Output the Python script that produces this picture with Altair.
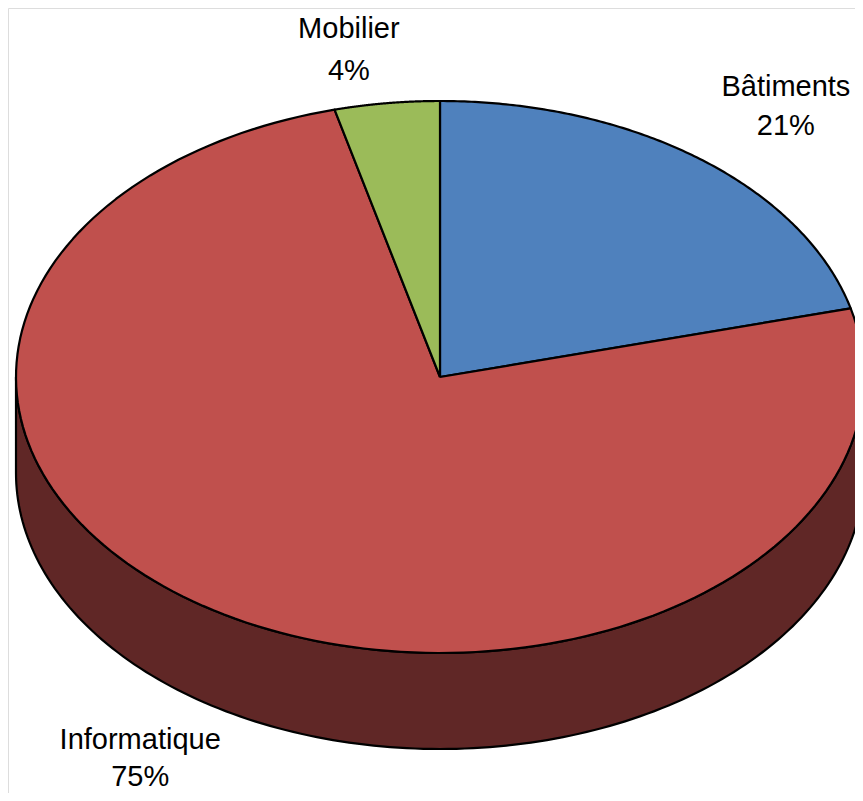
import altair as alt
import pandas as pd

categories = ["Bâtiments", "Informatique", "Mobilier"]
values = [21, 75, 4]
top_colors = ["#4F81BD", "#C0504D", "#9BBB59"]
side_colors = ["#2B3F5E", "#602726", "#4C5C2C"]

N = 160          # points per arc
DEPTH = 96 / 276  # side depth in data units (relative to vertical radius)

df = pd.DataFrame({"cat": categories, "val": values, "idx": list(range(len(categories)))})

xs = alt.Scale(domain=[-1, 1], range=[8, 856], nice=False, zero=False)
ys = alt.Scale(domain=[-1, 1], range=[645, 93], nice=False, zero=False)

base = (
    alt.Chart(df)
    .transform_window(cum="sum(val)", sort=[alt.SortField("idx")], frame=[None, 0])
    .transform_joinaggregate(total="sum(val)")
    .transform_calculate(
        a0="(datum.cum - datum.val) / datum.total",
        a1="datum.cum / datum.total",
    )
)

side_expr = "[" + ",".join(f"'{c}'" for c in side_colors) + "][datum.idx]"

# visible side wall (front half of the ellipse)
side = (
    base.transform_calculate(s0="max(datum.a0, 0.25)", s1="min(datum.a1, 0.75)")
    .transform_filter("datum.s1 > datum.s0")
    .transform_calculate(k=f"sequence(0, {2 * N + 3})", sc=side_expr)
    .transform_flatten(["k"])
    .transform_calculate(
        j=f"datum.k <= {N} ? datum.k : (datum.k <= {2 * N + 1} ? {2 * N + 1} - datum.k : 0)"
    )
    .transform_calculate(t=f"2 * PI * (datum.s0 + (datum.s1 - datum.s0) * datum.j / {N})")
    .transform_calculate(
        x="sin(datum.t)",
        y=f"cos(datum.t) - ((datum.k > {N} && datum.k <= {2 * N + 1}) ? {DEPTH} : 0)",
    )
    .mark_line(filled=True, stroke="black", strokeWidth=2.2, strokeJoin="round")
    .encode(
        x=alt.X("x:Q", scale=xs, axis=None),
        y=alt.Y("y:Q", scale=ys, axis=None),
        order=alt.Order("k:Q"),
        detail="cat:N",
        fill=alt.Fill("sc:N", scale=None),
    )
)

# top face slices
top = (
    base.transform_calculate(k=f"sequence(0, {N + 3})")
    .transform_flatten(["k"])
    .transform_calculate(t=f"2 * PI * (datum.a0 + (datum.a1 - datum.a0) * (datum.k - 1) / {N})")
    .transform_calculate(
        x=f"(datum.k == 0 || datum.k == {N + 2}) ? 0 : sin(datum.t)",
        y=f"(datum.k == 0 || datum.k == {N + 2}) ? 0 : cos(datum.t)",
    )
    .mark_line(filled=True, stroke="black", strokeWidth=2.2, strokeJoin="round")
    .encode(
        x=alt.X("x:Q", scale=xs, axis=None),
        y=alt.Y("y:Q", scale=ys, axis=None),
        order=alt.Order("k:Q"),
        detail="cat:N",
        fill=alt.Fill("cat:N", scale=alt.Scale(domain=categories, range=top_colors), legend=None),
    )
)

# labels, anchored at the slice's mid-angle on the rim
lab_base = base.transform_calculate(m="PI * (datum.a0 + datum.a1)").transform_calculate(
    lx="sin(datum.m)",
    ly=f"cos(datum.m) - (cos(datum.m) < 0 ? {DEPTH} : 0)",
    label="datum.cat + '\\n' + datum.val + '%'",
)

label_offsets = {"Bâtiments": (86, -63, 39), "Mobilier": (-38, -65, 42), "Informatique": (-84, 38, 37)}

labels = []
for cat in categories:
    dx, dy, lh = label_offsets[cat]
    labels.append(
        lab_base.transform_filter(alt.datum.cat == cat)
        .mark_text(
            font="Liberation Sans",
            fontSize=29,
            lineBreak="\n",
            lineHeight=lh,
            align="center",
            baseline="alphabetic",
            color="black",
            dx=dx,
            dy=dy,
        )
        .encode(
            x=alt.X("lx:Q", scale=xs, axis=None),
            y=alt.Y("ly:Q", scale=ys, axis=None),
            text="label:N",
        )
    )

chart = (
    alt.layer(side, top, *labels)
    .properties(width=847, height=785, padding=0, autosize=alt.AutoSizeParams(type="none"))
    .configure_view(strokeWidth=0, stroke="transparent", fill="white")
    .configure(background="white")
)

chart.save("out.html", embed_options={"renderer": "svg", "actions": False})
